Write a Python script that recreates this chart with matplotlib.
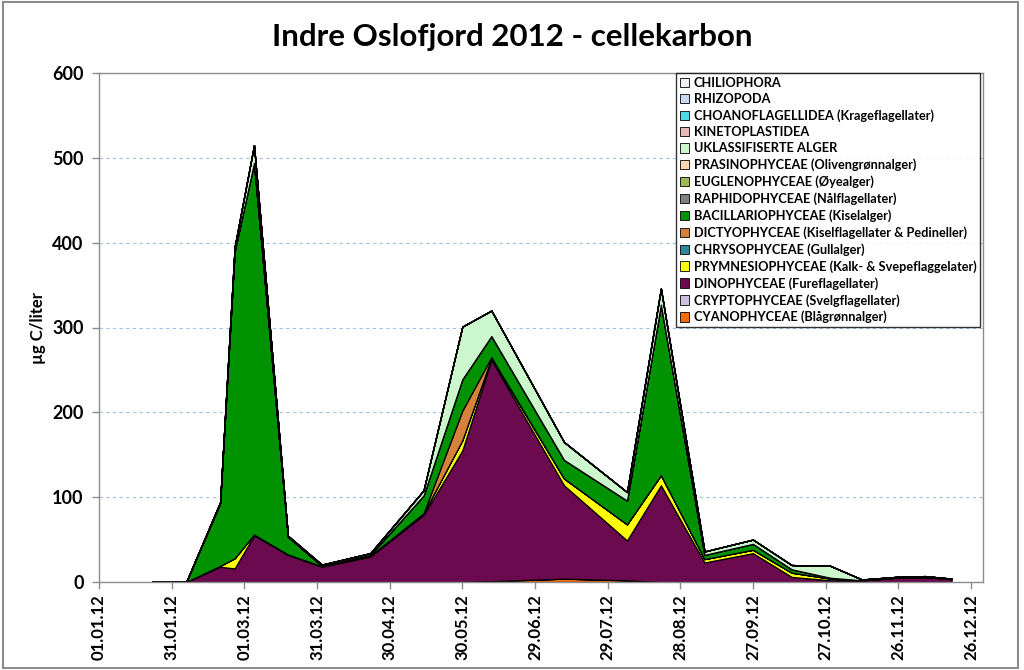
import matplotlib
matplotlib.use("Agg")
import matplotlib.pyplot as plt
import matplotlib.dates as mdates
from matplotlib.patches import Patch, Rectangle
import pandas as pd
import numpy as np

dates = ["2012-01-23", "2012-02-06", "2012-02-20", "2012-02-26", "2012-03-05", "2012-03-19",
         "2012-04-02", "2012-04-22", "2012-05-14", "2012-05-30", "2012-06-11", "2012-07-11",
         "2012-08-06", "2012-08-20", "2012-09-07", "2012-09-27", "2012-10-13", "2012-10-29",
         "2012-11-11", "2012-11-25", "2012-12-07", "2012-12-18"]

# bottom to top stacking order
cyanophyceae      = [0, 0, 0, 0, 0, 0, 0, 0, 0, 0, 1, 4, 2, 0, 0, 0, 0, 0, 0, 0, 0, 0]
cryptophyceae     = [0, 0, 0, 0, 0, 0, 0, 0, 0, 0, 0, 0, 0, 0, 0, 0, 0, 0, 0, 0, 0, 0]
dinophyceae       = [1, 0, 18, 16, 55, 32, 18, 30, 79, 155, 261, 110, 47, 114, 23, 34, 6, 2, 2, 5, 6, 3.5]
prymnesiophyceae  = [0, 0, 1, 12, 1, 0.5, 0.5, 1, 2, 12, 2, 8, 19, 12, 4, 4, 5, 2, 0, 0, 0, 0]
chrysophyceae     = [0, 0, 0, 0, 0, 0, 0, 0, 0, 0, 0, 0, 0, 0, 0, 0, 0, 0, 0, 0, 0, 0]
dictyophyceae     = [0, 0, 0, 0, 0, 0, 0, 0, 0, 35, 1, 0, 0, 0, 0, 0, 0, 0, 0, 0, 0, 0]
bacillariophyceae = [0, 0, 74, 362, 438, 21, 0.5, 1, 21, 37, 25, 22, 28, 201, 5, 7, 4, 1, 0, 0.5, 0, 0]
raphidophyceae    = [0, 0, 0, 0, 0, 0, 0, 0, 0, 0, 0, 0, 0, 0, 0, 0, 0, 0, 0, 0, 0, 0]
euglenophyceae    = [0, 0, 0, 0, 0, 0, 0, 0, 0, 0, 0, 0, 0, 0, 0, 0, 0, 0, 0, 0, 0, 0]
prasinophyceae    = [0, 0, 0, 0, 0, 0, 0, 0, 0, 0, 0, 0, 0, 0, 0, 0, 0, 0, 0, 0, 0, 0]
uklassifiserte    = [0, 0, 1, 5, 21, 1, 1.5, 2, 6, 62, 30, 21, 10, 19, 4, 5, 5, 14, 1, 0.5, 1, 0.5]
kinetoplastidea   = [0, 0, 0, 0, 0, 0, 0, 0, 0, 0, 0, 0, 0, 0, 0, 0, 0, 0, 0, 0, 0, 0]
choanoflagellidea = [0, 0, 0, 0, 0, 0, 0, 0, 0, 0, 0, 0, 0, 0, 0, 0, 0, 0, 0, 0, 0, 0]
rhizopoda         = [0, 0, 0, 0, 0, 0, 0, 0, 0, 0, 0, 0, 0, 0, 0, 0, 0, 0, 0, 0, 0, 0]
chiliophora       = [0, 0, 0, 0, 0, 0, 0, 0, 0, 0, 0, 0, 0, 0, 0, 0, 0, 0, 0, 0, 0, 0]

labels = ["CYANOPHYCEAE (Blågrønnalger)", "CRYPTOPHYCEAE (Svelgflagellater)",
          "DINOPHYCEAE (Fureflagellater)", "PRYMNESIOPHYCEAE (Kalk- & Svepeflaggelater)",
          "CHRYSOPHYCEAE (Gullalger)", "DICTYOPHYCEAE (Kiselflagellater & Pedineller)",
          "BACILLARIOPHYCEAE (Kiselalger)", "RAPHIDOPHYCEAE (Nålflagellater)",
          "EUGLENOPHYCEAE (Øyealger)", "PRASINOPHYCEAE (Olivengrønnalger)",
          "UKLASSIFISERTE ALGER", "KINETOPLASTIDEA", "CHOANOFLAGELLIDEA (Krageflagellater)",
          "RHIZOPODA", "CHILIOPHORA"]
series = [cyanophyceae, cryptophyceae, dinophyceae, prymnesiophyceae, chrysophyceae,
          dictyophyceae, bacillariophyceae, raphidophyceae, euglenophyceae, prasinophyceae,
          uklassifiserte, kinetoplastidea, choanoflagellidea, rhizopoda, chiliophora]
colors = ["#f26b0f", "#ccc0e0", "#6b0a4e", "#ffff00", "#31859c", "#d4823c", "#009200",
          "#808080", "#9bbb59", "#fcd5b4", "#ccf7cc", "#e6b8b7", "#4fd8e8", "#c5d9f1", "#f2f2f2"]

tick_dates = ["2012-01-01", "2012-01-31", "2012-03-01", "2012-03-31", "2012-04-30",
              "2012-05-30", "2012-06-29", "2012-07-29", "2012-08-28", "2012-09-27",
              "2012-10-27", "2012-11-26", "2012-12-26"]
y_ticks = [0, 100, 200, 300, 400, 500, 600]

FONT = "Lato"
plt.rcParams["font.family"] = [FONT, "DejaVu Sans"]

fig = plt.figure(figsize=(10.24, 6.70), dpi=100)
ax = fig.add_axes([99/1024, 1 - 582/670, (983-99)/1024, (582-73)/670])

x = pd.to_datetime(dates)
ax.stackplot(x, *series, colors=colors, edgecolor="black", linewidth=0.9)

ax.set_xlim(pd.Timestamp("2012-01-01"), pd.Timestamp("2012-12-31"))
ax.set_ylim(0, 600)
ax.set_xticks(pd.to_datetime(tick_dates))
ax.xaxis.set_major_formatter(mdates.DateFormatter("%d.%m.%y"))
ax.set_yticks(y_ticks)
for lab in ax.get_xticklabels():
    lab.set_rotation(90)
    lab.set_fontweight("bold")
    lab.set_fontsize(12)
for lab in ax.get_yticklabels():
    lab.set_fontweight("bold")
    lab.set_fontsize(13)
ax.tick_params(axis="both", direction="out", color="#8c8c8c", length=5, width=1)
ax.tick_params(axis="x", pad=4)
ax.tick_params(axis="y", pad=6)

ax.yaxis.grid(True, linestyle=(0, (3, 3)), color="#9dc3e6", linewidth=0.8)
ax.set_axisbelow(True)
for s in ax.spines.values():
    s.set_color("#8c8c8c")
    s.set_linewidth(1.0)

ax.set_ylabel("µg C/liter", fontsize=12, fontweight="bold")
ax.yaxis.set_label_coords(-0.06, 0.5)
fig.text(0.5, 1 - 37/670, "Indre Oslofjord 2012 - cellekarbon", ha="center", va="center",
         fontsize=22.5, fontweight="bold")

handles = [Patch(facecolor=c, edgecolor="black", linewidth=0.6) for c in colors]
leg = ax.legend(handles[::-1], labels[::-1], loc="upper right", bbox_to_anchor=(0.997, 1.0),
                ncol=1, frameon=True, fancybox=False, prop={"weight": "bold", "size": 9.2},
                handlelength=0.75, handleheight=0.75, handletextpad=0.35, labelspacing=0.33,
                borderpad=0.3, borderaxespad=0.0)
leg.get_frame().set_edgecolor("black")
leg.get_frame().set_linewidth(1.0)

fig.patches.append(Rectangle((3/1024, 2/670), 1015/1024, 666/670, transform=fig.transFigure,
                             fill=False, edgecolor="#8c8c8c", linewidth=1.5))

fig.savefig("out.png", dpi=100)
